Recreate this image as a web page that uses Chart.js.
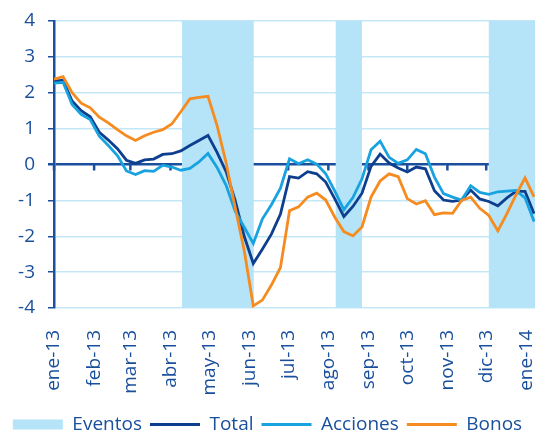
<!DOCTYPE html>
<html lang="es">
<head>
    <meta charset="UTF-8">
    <title>Eventos</title>
    <script src="https://cdn.jsdelivr.net/npm/chart.js"></script>
    <style>
        html, body { margin: 0; padding: 0; background: #fff; }
        .wrap { width: 536px; height: 435px; }
    </style>
</head>
<body>
    <div class="wrap"><canvas id="chart" width="536" height="435"></canvas></div>
    <script>
        // eje x: semanas desde ene-13; etiquetas al inicio de cada mes
        const monthLabels = ['ene-13', 'feb-13', 'mar-13', 'abr-13', 'may-13', 'jun-13', 'jul-13',
                             'ago-13', 'sep-13', 'oct-13', 'nov-13', 'dic-13', 'ene-14'];
        const monthStartDay = [0, 31, 59, 90, 120, 151, 181, 212, 243, 273, 304, 334, 365];

        // periodos de eventos (en semanas)
        const eventStart = [14.1, 31.1, 48.0];
        const eventEnd = [22.05, 34.0, 53.2];

        const total = [2.32, 2.35, 1.77, 1.50, 1.33, 0.90, 0.68, 0.44, 0.12, 0.03, 0.13, 0.15, 0.28, 0.30,
                       0.38, 0.53, 0.67, 0.81, 0.34, -0.20, -1.00, -2.00, -2.76, -2.36, -1.94, -1.38,
                       -0.34, -0.38, -0.20, -0.26, -0.49, -0.96, -1.45, -1.17, -0.80, -0.05, 0.29, 0.04,
                       -0.10, -0.21, -0.07, -0.12, -0.73, -0.99, -1.03, -0.99, -0.71, -0.96, -1.03, -1.15,
                       -0.93, -0.75, -0.75, -1.37];
        const acciones = [2.27, 2.29, 1.67, 1.40, 1.25, 0.79, 0.53, 0.25, -0.18, -0.28, -0.17, -0.19, -0.02, -0.07,
                          -0.16, -0.11, 0.07, 0.31, -0.08, -0.58, -1.30, -1.75, -2.20, -1.52, -1.12, -0.66,
                          0.16, 0.02, 0.13, 0.01, -0.26, -0.74, -1.26, -0.92, -0.40, 0.41, 0.65, 0.20,
                          0.03, 0.13, 0.42, 0.30, -0.35, -0.81, -0.91, -0.99, -0.59, -0.78, -0.83, -0.76,
                          -0.74, -0.72, -0.93, -1.59];
        const bonos = [2.38, 2.45, 2.00, 1.71, 1.58, 1.32, 1.16, 0.97, 0.80, 0.67, 0.80, 0.90, 0.97, 1.13,
                       1.47, 1.83, 1.87, 1.90, 1.09, 0.05, -1.20, -2.40, -3.94, -3.78, -3.36, -2.87,
                       -1.29, -1.18, -0.91, -0.80, -0.99, -1.47, -1.87, -1.99, -1.74, -0.91, -0.46, -0.26,
                       -0.34, -0.95, -1.10, -1.01, -1.40, -1.35, -1.36, -1.00, -0.91, -1.22, -1.42, -1.85,
                       -1.37, -0.85, -0.37, -0.90];

        const navy = '#1a4f9c';
        const gridBlue = '#c4e7f8';
        const yMin = -4, yMax = 4;

        function toPoints(values) {
            return values.map((v, i) => ({ x: i, y: v }));
        }

        // bandas de eventos como area rellena
        const eventPoints = [];
        eventStart.forEach((s, k) => {
            eventPoints.push({ x: s, y: yMin }, { x: s, y: yMax }, { x: eventEnd[k], y: yMax }, { x: eventEnd[k], y: yMin });
        });

        // marcas del eje x sobre la linea del cero
        const zeroTicks = {
            id: 'zeroTicks',
            beforeDatasetsDraw(chart) {
                const xs = chart.scales.x, ys = chart.scales.y;
                const y0 = ys.getPixelForValue(0);
                const c = chart.ctx;
                c.save();
                c.strokeStyle = navy;
                c.lineWidth = 2.5;
                monthStartDay.forEach(d => {
                    const px = xs.getPixelForValue(d / 7);
                    c.beginPath();
                    c.moveTo(px, y0);
                    c.lineTo(px, y0 + 6);
                    c.stroke();
                });
                c.restore();
            }
        };

        Chart.defaults.font.family = "'Open Sans', sans-serif";
        Chart.defaults.font.size = 19;
        Chart.defaults.color = navy;

        new Chart(document.getElementById('chart'), {
            type: 'line',
            data: {
                datasets: [{
                    label: 'Eventos',
                    data: eventPoints,
                    borderWidth: 0,
                    backgroundColor: '#b5e3f7',
                    borderColor: '#b5e3f7',
                    fill: 'start',
                    pointRadius: 0,
                    pointStyle: 'rect',
                    order: 4
                }, {
                    label: 'Total',
                    data: toPoints(total),
                    borderColor: '#0d3f8e',
                    backgroundColor: '#0d3f8e',
                    borderWidth: 2.8,
                    pointRadius: 0,
                    pointStyle: 'line',
                    order: 3
                }, {
                    label: 'Acciones',
                    data: toPoints(acciones),
                    borderColor: '#18a2df',
                    backgroundColor: '#18a2df',
                    borderWidth: 2.8,
                    pointRadius: 0,
                    pointStyle: 'line',
                    order: 2
                }, {
                    label: 'Bonos',
                    data: toPoints(bonos),
                    borderColor: '#f68b1f',
                    backgroundColor: '#f68b1f',
                    borderWidth: 2.8,
                    pointRadius: 0,
                    pointStyle: 'line',
                    order: 1
                }]
            },
            options: {
                responsive: false,
                animation: false,
                layout: { padding: { top: 21, right: 1, left: 0, bottom: -9 } },
                plugins: {
                    tooltip: { enabled: false },
                    legend: {
                        position: 'bottom',
                        labels: {
                            usePointStyle: true,
                            pointStyleWidth: 50,
                            boxHeight: 10,
                            padding: 8,
                            color: navy,
                            sort: (a, b) => a.datasetIndex - b.datasetIndex
                        }
                    }
                },
                scales: {
                    x: {
                        type: 'linear',
                        min: 0,
                        max: 53.1,
                        grid: { display: false },
                        border: { display: false },
                        afterBuildTicks: scale => {
                            scale.ticks = monthStartDay.map(d => ({ value: d / 7 }));
                        },
                        afterFit: scale => {
                            scale.height = 99;
                            scale.paddingLeft = 0;
                            scale.paddingRight = 0;
                        },
                        ticks: {
                            autoSkip: false,
                            minRotation: 90,
                            maxRotation: 90,
                            padding: 14,
                            color: navy,
                            callback: (value, index) => monthLabels[index]
                        }
                    },
                    y: {
                        min: yMin,
                        max: yMax,
                        afterFit: scale => {
                            scale.width = 54;
                            scale.paddingTop = 0;
                            scale.paddingBottom = 0;
                        },
                        ticks: { stepSize: 1, padding: 13, color: navy },
                        border: { display: true, color: navy, width: 2.5 },
                        grid: {
                            color: ctx => ctx.tick.value === 0 ? navy : gridBlue,
                            lineWidth: ctx => ctx.tick.value === 0 ? 2.5 : 1.5,
                            tickColor: navy,
                            tickLength: 6
                        }
                    }
                }
            },
            plugins: [zeroTicks]
        });
    </script>
</body>
</html>
